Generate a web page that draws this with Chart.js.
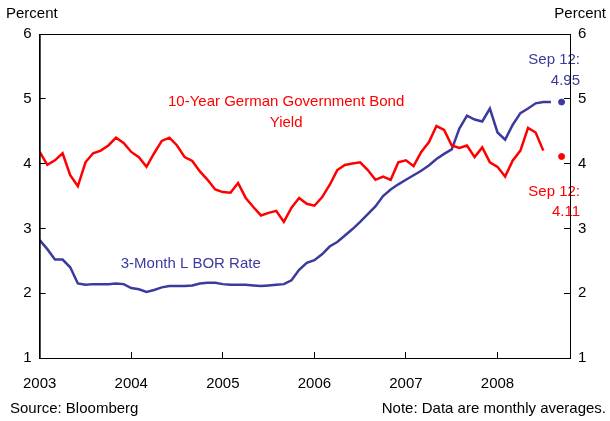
<!DOCTYPE html>
<html><head><meta charset="utf-8">
<script src="https://cdn.jsdelivr.net/npm/chart.js@4"></script>
<style>html,body{margin:0;background:#fff}#wrap{width:610px;height:421px}</style>
</head><body><div id="wrap"><canvas id="c"></canvas></div>
<script>
const yearLabels = ['2003', '2004', '2005', '2006', '2007', '2008'];
const germanYield = [4.18,3.98,4.05,4.16,3.82,3.65,4.02,4.16,4.2,4.28,4.4,4.32,
  4.18,4.1,3.95,4.16,4.35,4.4,4.28,4.1,4.04,3.88,3.75,3.6,
  3.56,3.55,3.7,3.47,3.33,3.2,3.24,3.27,3.1,3.32,3.47,3.38,
  3.35,3.48,3.67,3.9,3.98,4.0,4.02,3.9,3.75,3.8,3.75,4.02,
  4.05,3.96,4.18,4.33,4.58,4.52,4.28,4.24,4.28,4.1,4.25,4.02,
  3.95,3.8,4.05,4.2,4.55,4.48,4.2];
const libor = [2.82,2.68,2.52,2.52,2.4,2.15,2.13,2.14,2.14,2.14,2.15,2.14,
  2.08,2.06,2.02,2.05,2.09,2.11,2.11,2.11,2.12,2.15,2.16,2.16,
  2.14,2.13,2.13,2.13,2.12,2.11,2.12,2.13,2.14,2.2,2.36,2.47,
  2.51,2.6,2.72,2.79,2.89,2.99,3.1,3.22,3.34,3.5,3.6,3.68,
  3.75,3.82,3.89,3.97,4.07,4.15,4.22,4.54,4.74,4.68,4.65,4.85,
  4.48,4.37,4.6,4.78,4.85,4.93,4.95,4.95];
const latestMonth = 68.4;
const latestGerman = 4.11;
const latestLibor = 4.95;

const red = '#ff0000', blue = '#3b3b9e';
const toXY = arr => arr.map((v, i) => ({x: i, y: v}));

const textPlugin = {
  id: 'texts',
  afterDraw(chart) {
    const {ctx, scales: {x, y}, chartArea} = chart;
    ctx.save();
    ctx.font = '15px Arial, "Liberation Sans"';
    ctx.textBaseline = 'middle';
    const put = (t, px, py, color, align) => {
      ctx.fillStyle = color; ctx.textAlign = align; ctx.fillText(t, px, py);
    };
    put('Percent', 6, 14, '#000', 'left');
    put('Percent', 606, 14, '#000', 'right');
    put('10-Year German Government Bond', x.getPixelForValue(32.3), y.getPixelForValue(4.95), red, 'center');
    put('Yield', x.getPixelForValue(32.3), y.getPixelForValue(4.63), red, 'center');
    put('3-Month L BOR Rate', x.getPixelForValue(19.8), y.getPixelForValue(2.46), blue, 'center');
    put('Sep 12:', 580, y.getPixelForValue(5.6), blue, 'right');
    put('4.95', 580, y.getPixelForValue(5.28), blue, 'right');
    put('Sep 12:', 580, y.getPixelForValue(3.57), red, 'right');
    put('4.11', 580, y.getPixelForValue(3.25), red, 'right');
    put('Source: Bloomberg', 10, 409, '#000', 'left');
    put('Note: Data are monthly averages.', 606, 409, '#000', 'right');
    ctx.strokeStyle = '#000'; ctx.lineWidth = 1;
    ctx.strokeRect(chartArea.left + 0.5, chartArea.top + 0.5, chartArea.width, chartArea.height);
    ctx.restore();
  }
};

const tickFont = {size: 15, family: 'Arial, "Liberation Sans"'};
new Chart(document.getElementById('c'), {
  type: 'line',
  data: {
    datasets: [
      {data: toXY(germanYield), borderColor: red, borderWidth: 2.5, pointRadius: 0, tension: 0},
      {data: toXY(libor), borderColor: blue, borderWidth: 2.5, pointRadius: 0, tension: 0},
      {data: [{x: latestMonth, y: latestGerman}], borderColor: red, backgroundColor: red, pointRadius: 3, showLine: false},
      {data: [{x: latestMonth, y: latestLibor}], borderColor: blue, backgroundColor: blue, pointRadius: 3, showLine: false}
    ]
  },
  plugins: [textPlugin],
  options: {
    responsive: true, maintainAspectRatio: false, animation: false,
    layout: {padding: {top: 34, bottom: 15, left: 0, right: 0}},
    plugins: {legend: {display: false}, tooltip: {enabled: false}},
    scales: {
      x: {
        type: 'linear', min: 0, max: 69.5,
        afterBuildTicks: s => { s.ticks = yearLabels.map((_, i) => ({value: i * 12})); },
        ticks: {font: tickFont, color: '#000', callback: v => yearLabels[v / 12], maxRotation: 0, padding: 23},
        grid: {drawOnChartArea: false, tickLength: -6, color: '#000'},
        border: {color: '#000'},
        afterFit: s => { s.height = 48; }
      },
      y: {
        min: 1, max: 6, afterFit: s => { s.width = 37; },
        ticks: {stepSize: 1, font: tickFont, color: '#000', padding: 14},
        grid: {drawOnChartArea: false, tickLength: -6, color: '#000'},
        border: {color: '#000'}
      },
      y2: {
        position: 'right', min: 1, max: 6, afterFit: s => { s.width = 40; },
        ticks: {stepSize: 1, font: tickFont, color: '#000', padding: 14},
        grid: {drawOnChartArea: false, tickLength: -6, color: '#000'},
        border: {color: '#000'}
      }
    }
  }
});
</script></body></html>
